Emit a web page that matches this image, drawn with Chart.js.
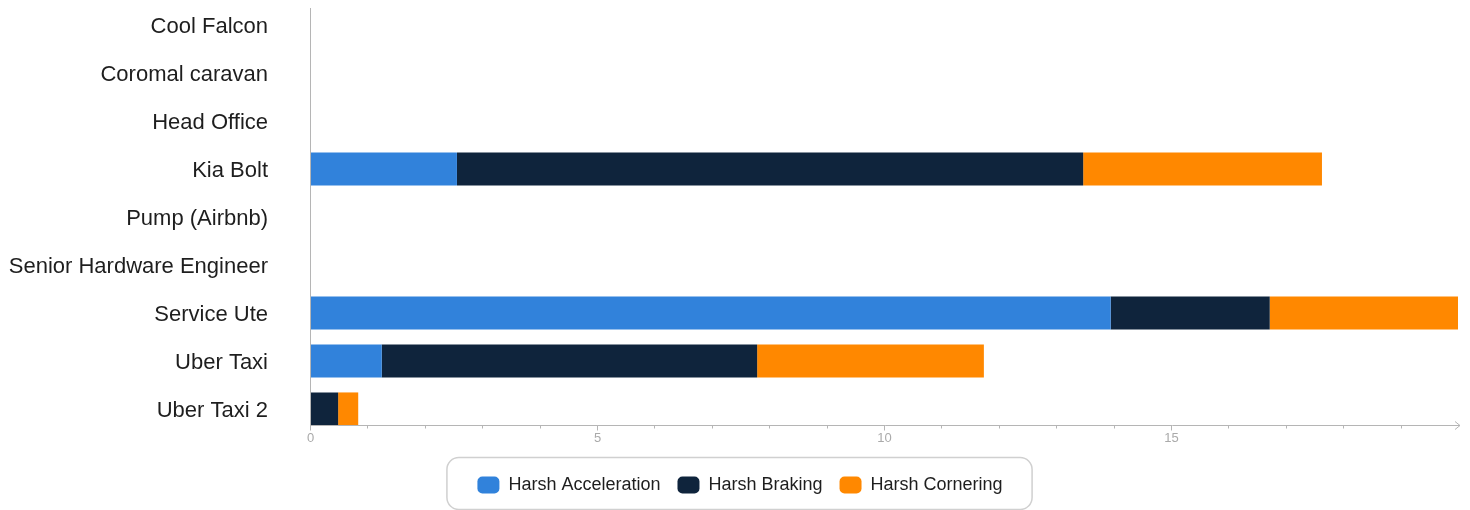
<!DOCTYPE html>
<html>
<head>
<meta charset="utf-8">
<script src="https://cdn.jsdelivr.net/npm/chart.js@4.4.1/dist/chart.umd.min.js"></script>
<style>
  html, body { margin: 0; padding: 0; background: #fff; }
  #wrap { width: 1470px; height: 510px; position: relative; }
</style>
</head>
<body>
<div id="wrap"><canvas id="events"></canvas></div>
<script>
// vehicles and harsh event counts
const vehicles = ['Cool Falcon', 'Coromal caravan', 'Head Office', 'Kia Bolt', 'Pump (Airbnb)',
  'Senior Hardware Engineer', 'Service Ute', 'Uber Taxi', 'Uber Taxi 2'];
const seriesNames = ['Harsh Acceleration', 'Harsh Braking', 'Harsh Cornering'];
const accel = [0, 0, 0, 2.56, 0, 0, 13.95, 1.25, 0];
const braking = [0, 0, 0, 10.91, 0, 0, 2.77, 6.54, 0.49];
const cornering = [0, 0, 0, 4.16, 0, 0, 3.28, 3.95, 0.35];
const xMax = 20;
const majorStep = 5;

const FONT = '"Liberation Sans", Arial, sans-serif';
const AXIS_COLOR = '#b5b5b5';

// custom axis: line sits a little above the plot bottom, with an arrow at the end
const axisLines = {
  id: 'axisLines',
  afterDatasetsDraw(chart) {
    const { ctx, chartArea } = chart;
    const xs = chart.scales.x;
    const axisY = Math.round(chartArea.bottom - 8) + 0.5;
    const left = Math.round(chartArea.left) + 0.5;
    ctx.save();
    ctx.strokeStyle = AXIS_COLOR;
    ctx.lineWidth = 1;
    ctx.beginPath();
    ctx.moveTo(left, chartArea.top + 7);
    ctx.lineTo(left, axisY + 3);
    ctx.stroke();
    ctx.beginPath();
    ctx.moveTo(left, axisY);
    ctx.lineTo(chartArea.right + 2, axisY);
    ctx.stroke();
    // arrow head
    ctx.beginPath();
    ctx.moveTo(chartArea.right - 3, axisY - 4);
    ctx.lineTo(chartArea.right + 2, axisY);
    ctx.lineTo(chartArea.right - 3, axisY + 4);
    ctx.stroke();
    ctx.fillStyle = '#aaa';
    ctx.font = '13px ' + FONT;
    ctx.textAlign = 'center';
    ctx.textBaseline = 'top';
    xs.ticks.forEach(t => {
      if (t.value >= xMax) return;
      const px = Math.round(xs.getPixelForValue(t.value)) + 0.5;
      const major = t.value % majorStep === 0;
      ctx.beginPath();
      ctx.moveTo(px, axisY);
      ctx.lineTo(px, axisY + (major ? 5 : 3));
      ctx.stroke();
      if (major) ctx.fillText(String(t.value), px, axisY + 6);
    });
    ctx.restore();
  },
  afterDraw(chart) {
    // rounded frame round the legend
    const hb = chart.legend && chart.legend.legendHitBoxes;
    if (!hb || !hb.length) return;
    const { ctx } = chart;
    const last = hb[hb.length - 1];
    const cy = hb[0].top + hb[0].height / 2;
    const x0 = hb[0].left - 30.5, x1 = last.left + last.width + 29.5;
    const y0 = Math.round(cy - 28) + 0.5, y1 = y0 + 52;
    ctx.save();
    ctx.strokeStyle = '#d0d0d0';
    ctx.lineWidth = 1.5;
    ctx.beginPath();
    ctx.roundRect(x0, y0, x1 - x0, y1 - y0, 12);
    ctx.stroke();
    ctx.restore();
  }
};

const colors = ['#3182db', '#0f243c', '#ff8800'];

new Chart(document.getElementById('events'), {
  type: 'bar',
  data: {
    labels: vehicles,
    datasets: [accel, braking, cornering].map((d, i) => ({
      label: seriesNames[i],
      data: d,
      backgroundColor: colors[i],
      borderWidth: 0,
      barPercentage: 0.69,
      categoryPercentage: 1
    }))
  },
  options: {
    indexAxis: 'y',
    responsive: true,
    maintainAspectRatio: false,
    animation: false,
    layout: { padding: { top: 1, right: 12, bottom: 6, left: 22 } },
    scales: {
      x: {
        stacked: true,
        min: 0,
        max: xMax,
        grid: { display: false },
        border: { display: false },
        ticks: { display: false, stepSize: 1 },
        afterFit: s => { s.height = 26; }
      },
      y: {
        stacked: true,
        grid: { display: false, drawTicks: false },
        border: { display: false },
        ticks: { color: '#1e1e1e', padding: 42, labelOffset: 2, font: { family: FONT, size: 22 } },
        afterFit: s => {
          s.width = 288;
          s.paddingTop = 0;
          s.paddingBottom = 0;
          // long labels run into the left padding, so don't clip them
          s._computeLabelArea = () => undefined;
        }
      }
    },
    plugins: {
      legend: {
        position: 'bottom',
        labels: {
          color: '#1e1e1e',
          font: { family: FONT, size: 18 },
          boxWidth: 22,
          boxHeight: 17,
          useBorderRadius: true,
          borderRadius: 5,
          padding: 17
        }
      },
      tooltip: { enabled: false }
    }
  },
  plugins: [axisLines]
});
</script>
</body>
</html>
